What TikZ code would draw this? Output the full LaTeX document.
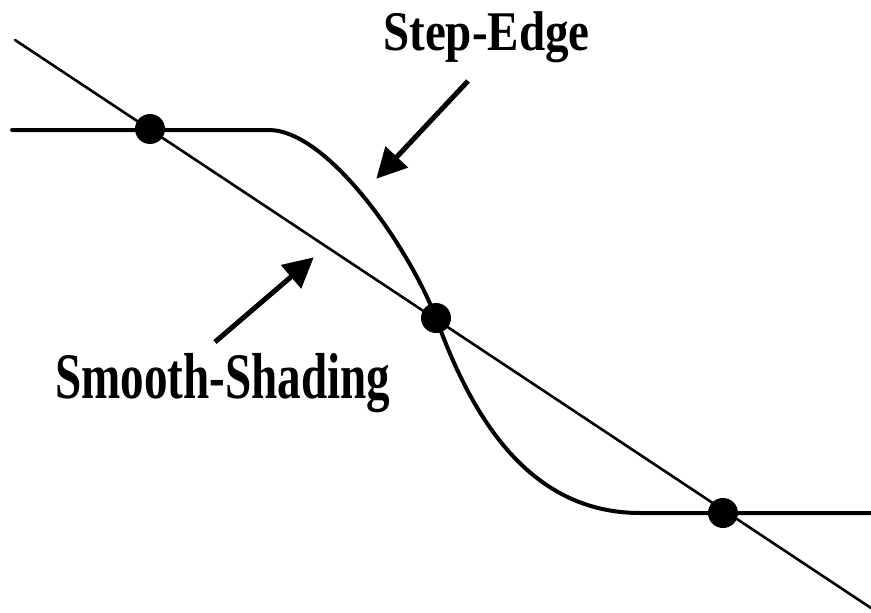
\documentclass[tikz,border=0pt]{standalone}
\usepackage{fontspec}
\setmainfont{Liberation Serif}
\usetikzlibrary{arrows.meta}
\tikzset{
  thinline/.style={line width=2.6pt, line cap=round},
  stepcurve/.style={line width=4pt, line cap=round},
  pointer/.style={line width=5pt, -{Triangle[length=30pt,width=30pt]}, shorten >=-1pt},
  dot/.style={circle, fill=black, minimum size=30pt, inner sep=0pt},
  lbl/.style={anchor=base west, inner sep=0pt, font=\bfseries},
}
\begin{document}
\begin{tikzpicture}[x=1pt,y=-1pt]
\useasboundingbox (0,0) rectangle (871,613);
% straight line
\coordinate (L1) at (15,40);
\coordinate (L2) at (871,608);
\draw[thinline] (L1) -- (L2);
% step edge curve
\coordinate (S0) at (12,130);
\coordinate (S1) at (270,130);
\coordinate (SM) at (436,318);
\coordinate (S2) at (640,513);
\coordinate (S3) at (871,513);
\draw[stepcurve] (S0) -- (S1) .. controls (330,132) and (410,250) .. (SM)
  .. controls (466,400) and (520,513) .. (S2) -- (S3);
% dots
\node[dot] (d1) at (150,129) {};
\node[dot] (d2) at (436,318) {};
\node[dot] (d3) at (723,513) {};
% labels
\node[lbl] (stepedge) at (383,50) {\fontsize{56}{60}\selectfont\scalebox{0.84}[1]{Step-Edge}};
\node[lbl] (smooth) at (55,398) {\fontsize{65}{70}\selectfont\scalebox{0.725}[1]{Smooth-Shading}};
% arrows
\coordinate (a1s) at (468,81);
\coordinate (a1e) at (377,178);
\coordinate (a2s) at (215,342);
\coordinate (a2e) at (313,258);
\draw[pointer] (a1s) -- (a1e);
\draw[pointer] (a2s) -- (a2e);
\end{tikzpicture}
\end{document}
